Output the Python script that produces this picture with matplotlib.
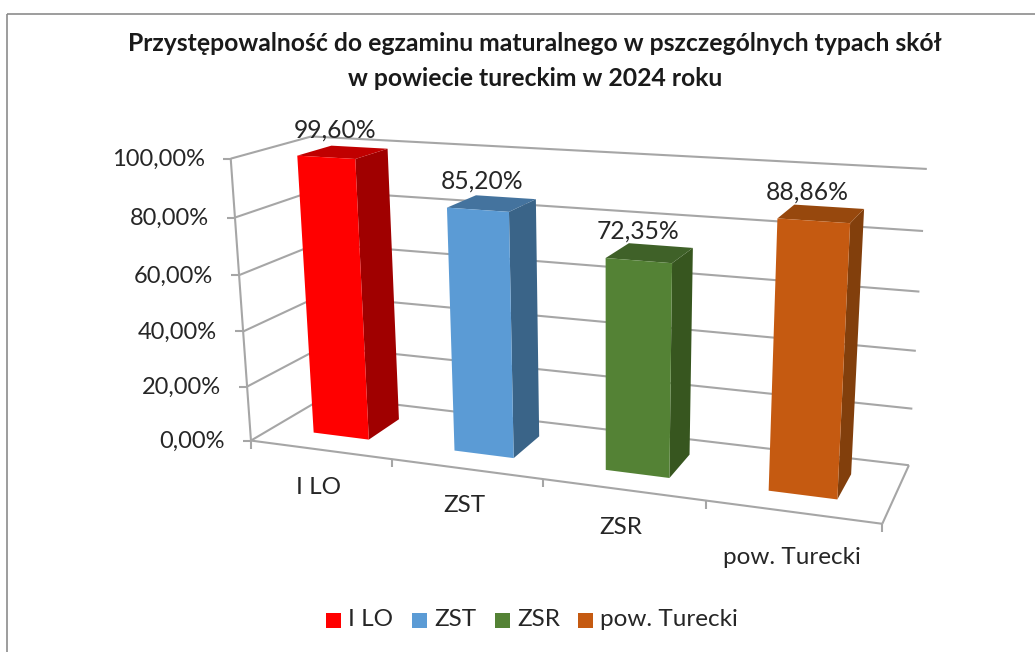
import numpy as np
import matplotlib
matplotlib.use("Agg")
import matplotlib.pyplot as plt
from matplotlib.patches import Polygon, Rectangle

plt.rcParams['font.family'] = ['Lato', 'DejaVu Sans']

categories = ["I LO", "ZST", "ZSR", "pow. Turecki"]
values = [99.60, 85.20, 72.35, 88.86]
value_labels = ["99,60%", "85,20%", "72,35%", "88,86%"]
tick_values = [0, 20, 40, 60, 80, 100]
tick_labels = ["0,00%", "20,00%", "40,00%", "60,00%", "80,00%", "100,00%"]
colors = ["#FF0000", "#5B9BD5", "#548235", "#C55A11"]
side_colors = ["#A00000", "#3A6488", "#37561F", "#823F0C"]
top_colors = ["#C00000", "#44739E", "#3F6128", "#97480D"]
title = ("Przystępowalność do egzaminu maturalnego w pszczególnych typach skół\n"
         "w powiecie tureckim w 2024 roku")

GRID = "#A6A6A6"
TEXT = "#262626"

# corners of the plot box: (category, value, depth) -> pixel
box_3d = [(0, 0, 0), (0, 100, 0), (4, 0, 0), (0, 0, 1), (0, 100, 1), (4, 0, 1), (4, 100, 1)]
box_px = [(250, 441), (232, 158), (882, 524), (327, 396), (310, 137), (909, 465), (927, 169)]


def fit_camera(pts3, pts2):
    rows = []
    for (x, y, z), (u, v) in zip(pts3, pts2):
        x, y = x / 4, y / 100
        rows.append([x, y, z, 1, 0, 0, 0, 0, -u * x, -u * y, -u * z, -u])
        rows.append([0, 0, 0, 0, x, y, z, 1, -v * x, -v * y, -v * z, -v])
    return np.linalg.svd(np.array(rows))[2][-1].reshape(3, 4)


cam = fit_camera(box_3d, box_px)


def project(x, y, z):
    p = cam @ np.array([x / 4, y / 100, z, 1.0])
    return p[0] / p[2], p[1] / p[2]


fig = plt.figure(figsize=(10.35, 6.52), dpi=100)
ax = fig.add_axes([0, 0, 1, 1])
ax.set_xlim(0, 1035)
ax.set_ylim(652, 0)
ax.axis("off")

# outer frame
ax.add_patch(Rectangle((7, 14), 1040, 700, fill=False, ec="#8C8C8C", lw=1.2))


def line(a, b, **kw):
    ax.plot([a[0], b[0]], [a[1], b[1]], color=GRID, lw=1.5, solid_capstyle="butt", **kw)


# gridlines on side and back wall, value ticks and labels
for v, lab in zip(tick_values, tick_labels):
    front = project(0, v, 0)
    line(project(4, v, 1), project(0, v, 1))
    line(project(0, v, 1), front)
    line((front[0] - 8, front[1]), front)
    ax.text(front[0] - 26, front[1] + 1, lab, ha="right", va="center",
            fontsize=17, color=TEXT)

line(project(0, 0, 0), project(0, 100, 0))
line(project(0, 0, 0), project(4, 0, 0))
line(project(4, 0, 0), project(4, 0, 1))

# category ticks
for i in range(5):
    p = project(i, 0, 0)
    line(p, (p[0], p[1] + 8))

# bars, box goes from x0..x1 within the category slot
bar_w = 0.40
z0, z1 = 0.28, 0.72
label_dx = [-8, -10, -12, -14]
for i, (val, c, sc, tc) in enumerate(zip(values, colors, side_colors, top_colors)):
    x0, x1 = i + 0.5 - bar_w / 2, i + 0.5 + bar_w / 2
    front = [project(x0, 0, z0), project(x1, 0, z0), project(x1, val, z0), project(x0, val, z0)]
    side = [project(x1, 0, z0), project(x1, 0, z1), project(x1, val, z1), project(x1, val, z0)]
    top = [project(x0, val, z0), project(x1, val, z0), project(x1, val, z1), project(x0, val, z1)]
    ax.add_patch(Polygon(side, fc=sc, ec="none", zorder=3))
    ax.add_patch(Polygon(top, fc=tc, ec="none", zorder=3))
    ax.add_patch(Polygon(front, fc=c, ec="none", zorder=3))
    lx, ly = project(i + 0.5, val, 0.5)
    ax.text(lx + label_dx[i], ly - 22, value_labels[i], ha="center", va="center",
            fontsize=17.7, color=TEXT, zorder=4)

# category labels
label_pos = [(319, 487), (464, 506), (621, 528), (792, 557)]
for lab, (px, py) in zip(categories, label_pos):
    ax.text(px, py, lab, ha="center", va="center", fontsize=17.5, color=TEXT)

ax.text(535, 61, title, ha="center", va="center", fontsize=17.8, fontweight="bold",
        color="#1A1A1A", linespacing=1.6)

# legend
legend_x = [326, 412, 495, 578]
for x, lab, c in zip(legend_x, categories, colors):
    ax.add_patch(Rectangle((x, 613), 15, 15, fc=c, ec="none"))
    ax.text(x + 22, 620, lab, ha="left", va="center", fontsize=17.5, color=TEXT)

fig.savefig("out.png", dpi=100)
